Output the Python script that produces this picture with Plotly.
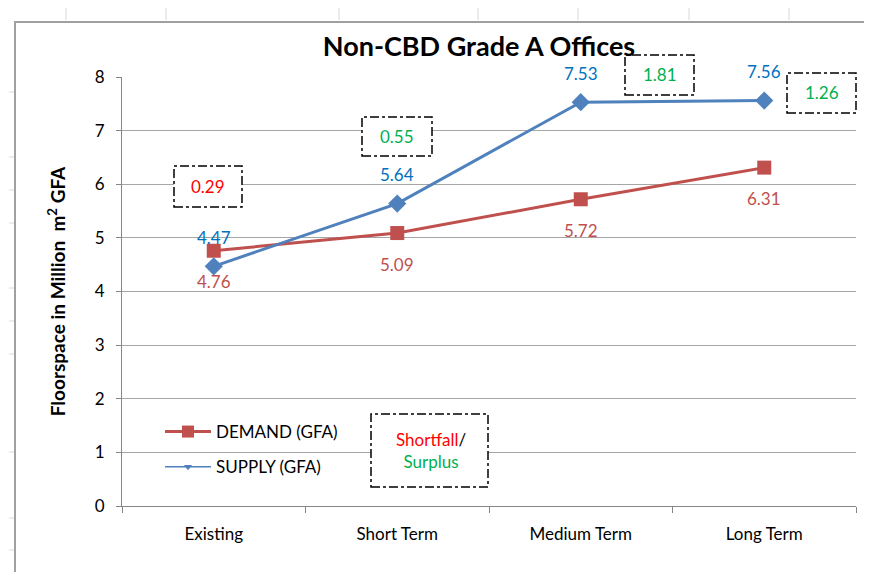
import plotly.graph_objects as go

categories = ["Existing", "Short Term", "Medium Term", "Long Term"]
demand = [4.76, 5.09, 5.72, 6.31]
supply = [4.47, 5.64, 7.53, 7.56]
gap_labels = ["0.29", "0.55", "1.81", "1.26"]
gap_colors = ["#FF0000", "#00B050", "#00B050", "#00B050"]

FONT = "Lato, Open Sans, Liberation Sans"

OFF = 8  # page body margin offset
W, H = 872 - OFF, 572 - OFF
# plot-area geometry (reference pixels)
L, R, T, B = 122, 856, 77, 506
def px(x):
    return (x - L) / (R - L)
def py(y):
    return (B - y) / (B - T)

fig = go.Figure()
fig.add_trace(go.Scatter(
    x=categories, y=demand, name="DEMAND (GFA)", mode="lines+markers",
    line=dict(color="#C0504D", width=3),
    marker=dict(symbol="square", size=14, color="#C0504D"),
    showlegend=False, cliponaxis=False,
))
fig.add_trace(go.Scatter(
    x=categories, y=supply, name="SUPPLY (GFA)", mode="lines+markers",
    line=dict(color="#4F81BD", width=3),
    marker=dict(symbol="diamond", size=14, color="#4F81BD"),
    showlegend=False, cliponaxis=False,
))
# legend entries
fig.add_trace(go.Scatter(x=[None], y=[None], name="DEMAND (GFA)", mode="lines+markers",
                         line=dict(color="#C0504D", width=3),
                         marker=dict(symbol="square", size=12, color="#C0504D"),
                         legendgroup="d"))
fig.add_trace(go.Scatter(x=[None], y=[None], name="SUPPLY (GFA)", mode="lines+markers",
                         line=dict(color="#4F81BD", width=1.5),
                         marker=dict(symbol="triangle-down", size=7, color="#4F81BD"),
                         legendgroup="s"))

annotations = []
# data labels
for c, v in zip(categories, supply):
    annotations.append(dict(x=c, y=v, xref="x", yref="y", text=f"{v:.2f}", showarrow=False,
                            yshift=29, xanchor="center", yanchor="middle",
                            font=dict(color="#0070C0", size=17, family=FONT)))
for c, v in zip(categories, demand):
    annotations.append(dict(x=c, y=v, xref="x", yref="y", text=f"{v:.2f}", showarrow=False,
                            yshift=-31, xanchor="center", yanchor="middle",
                            font=dict(color="#C0504D", size=17, family=FONT)))

shapes = []
boxes = [(174, 242, 166, 207), (362, 432, 117, 156), (625, 694, 55, 95), (787, 856, 73, 113)]
for (x0, x1, y0, y1), lab, col in zip(boxes, gap_labels, gap_colors):
    shapes.append(dict(type="rect", xref="paper", yref="paper",
                       x0=px(x0), x1=px(x1), y0=py(y1), y1=py(y0),
                       line=dict(color="black", width=1.5, dash="dashdot"),
                       fillcolor="white", layer="above"))
    annotations.append(dict(xref="paper", yref="paper", x=px((x0 + x1) / 2), y=py((y0 + y1) / 2),
                            xanchor="center", yanchor="middle",
                            text=lab, showarrow=False, font=dict(color=col, size=17, family=FONT)))

# legend note box
shapes.append(dict(type="rect", xref="paper", yref="paper",
                   x0=px(371), x1=px(488), y0=py(487), y1=py(414),
                   line=dict(color="black", width=1.5, dash="dashdot"),
                   fillcolor="white", layer="above"))
annotations.append(dict(xref="paper", yref="paper", x=px(431), y=py(450),
                        xanchor="center", yanchor="middle",
                        text="<span style='color:#FF0000'>Shortfall</span>/<br><span style='color:#00B050'>Surplus</span>",
                        showarrow=False, align="center",
                        font=dict(color="black", size=17, family=FONT)))

# outer frame
shapes.append(dict(type="rect", xref="paper", yref="paper",
                   x0=px(15), x1=px(900), y0=py(600), y1=py(22),
                   line=dict(color="#A0A0A0", width=2), layer="below"))
# faint spreadsheet gridline stubs outside the chart frame
for yy in [92, 157, 190, 223, 288, 321, 354, 452, 518, 550]:
    shapes.append(dict(type="line", xref="paper", yref="paper",
                       x0=px(9), x1=px(14), y0=py(yy), y1=py(yy),
                       line=dict(color="#D4D8E0", width=1), layer="below"))
for xx in [66, 166, 339, 478, 578, 689, 789]:
    shapes.append(dict(type="line", xref="paper", yref="paper",
                       x0=px(xx), x1=px(xx), y0=py(8), y1=py(20),
                       line=dict(color="#D4D8E0", width=1), layer="below"))

fig.update_layout(
    width=W, height=H,
    margin=dict(l=L - OFF, r=W - (R - OFF), t=T - OFF, b=H - (B - OFF), autoexpand=False),
    paper_bgcolor="white", plot_bgcolor="white",
    title=dict(text="<b>Non-CBD Grade A Offices</b>", x=px(479), xref="paper", xanchor="center",
               y=1 - (47 - OFF) / H, yanchor="middle",
               font=dict(size=27, family=FONT, color="black")),
    font=dict(family=FONT, color="black", size=16),
    showlegend=True,
    legend=dict(x=px(160), y=py(414), xanchor="left", yanchor="top",
                bgcolor="rgba(0,0,0,0)", font=dict(size=17, family=FONT),
                tracegroupgap=10, itemwidth=46),
    shapes=shapes, annotations=annotations,
)
fig.update_xaxes(
    range=[-0.5, 3.5], showline=True, linecolor="#868686", linewidth=1,
    ticks="outside", tickson="boundaries", ticklen=6, tickcolor="#868686",
    showgrid=False, tickfont=dict(size=17, family=FONT), ticklabelstandoff=13,
)
fig.update_yaxes(
    range=[0, 8], dtick=1, showline=True, linecolor="#868686", linewidth=1,
    ticks="outside", ticklen=5, tickcolor="#868686",
    showgrid=True, gridcolor="#A6A6A6", gridwidth=1, zeroline=False,
    tickfont=dict(size=17, family=FONT), ticklabelstandoff=8,
    title=dict(text="<b>Floorspace in Million  m<sup>2</sup> GFA</b>",
               font=dict(size=19, family=FONT), standoff=24),
)
fig.write_html("out.html")
